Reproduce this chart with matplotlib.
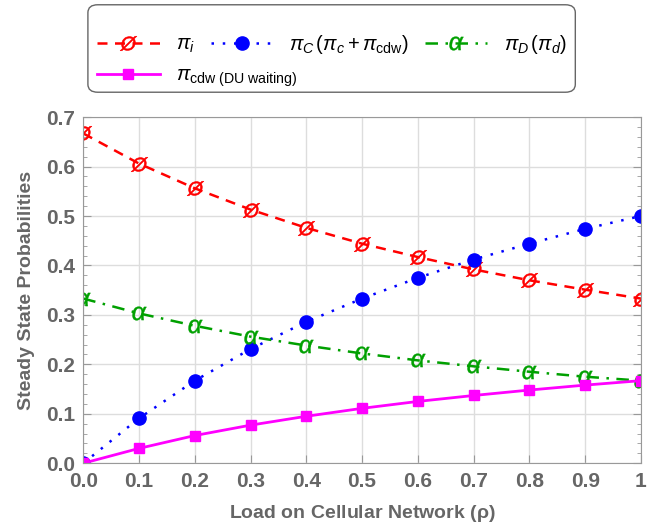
import matplotlib.pyplot as plt
from matplotlib.ticker import MultipleLocator
from matplotlib.patches import FancyBboxPatch

plt.rcParams['font.family'] = ['Liberation Sans', 'DejaVu Sans']
plt.rcParams['mathtext.fontset'] = 'custom'
plt.rcParams['mathtext.rm'] = 'Liberation Sans'
plt.rcParams['mathtext.it'] = 'Liberation Sans:italic'
plt.rcParams['mathtext.bf'] = 'Liberation Sans:bold'

# load values and steady state probabilities
rho = [0.0, 0.1, 0.2, 0.3, 0.4, 0.5, 0.6, 0.7, 0.8, 0.9, 1.0]
pi_i = [0.667, 0.606, 0.556, 0.513, 0.476, 0.444, 0.417, 0.392, 0.370, 0.351, 0.333]
pi_C = [0.0, 0.091, 0.167, 0.231, 0.286, 0.333, 0.375, 0.412, 0.444, 0.474, 0.500]
pi_D = [0.333, 0.303, 0.278, 0.256, 0.238, 0.222, 0.208, 0.196, 0.185, 0.175, 0.167]
pi_cdw = [0.0, 0.030, 0.056, 0.077, 0.095, 0.111, 0.125, 0.137, 0.148, 0.158, 0.167]
xticklabels = ['0.0', '0.1', '0.2', '0.3', '0.4', '0.5', '0.6', '0.7', '0.8', '0.9', '1']
yticks = [0.0, 0.1, 0.2, 0.3, 0.4, 0.5, 0.6, 0.7]

gray = '#666666'
fig = plt.figure(figsize=(6.56, 5.30), dpi=100)
ax = fig.add_axes([0.127, 0.126, 0.850, 0.653])

l1, = ax.plot(rho, pi_i, color='#ff0000', ls=(0, (4, 3)), lw=1.8,
              marker='$Ø$', ms=12, mew=0.4, label=r'$\pi_i$')
l2, = ax.plot(rho, pi_C, color='#0000ff', ls=(0, (1, 3.5)), lw=1.8,
              marker='o', ms=9.5, label=r'$\pi_C\,(\pi_c + \pi_{\rm cdw})$')
l3, = ax.plot(rho, pi_D, color='#00a000', ls=(0, (5, 3, 1, 3)), lw=1.8,
              marker='$\\alpha$', ms=10, mew=0.3, label=r'$\pi_D\,(\pi_d)$')
l4, = ax.plot(rho, pi_cdw, color='#ff00ff', ls='-', lw=2,
              marker='s', ms=7, label=r'$\pi_{\rm cdw\ (DU\ waiting)}$')

ax.set_xlim(0, 1)
ax.set_ylim(0, 0.7)
ax.set_xticks(rho)
ax.set_xticklabels(xticklabels)
ax.set_yticks(yticks)
ax.yaxis.set_minor_locator(MultipleLocator(0.02))
ax.grid(True, which='major', color='#dddddd', lw=1)
ax.set_axisbelow(True)
for s in ax.spines.values():
    s.set_color('#999999')
ax.tick_params(which='both', direction='in', color='#999999', right=True, top=False)
ax.tick_params(which='major', length=6, labelsize=15, labelcolor=gray, pad=6)
ax.tick_params(which='minor', length=3)
for lab in ax.get_xticklabels() + ax.get_yticklabels():
    lab.set_fontweight('bold')

ax.set_xlabel(r'Load on Cellular Network ($\bf\rho$)', fontsize=14, fontweight='bold',
              color=gray, labelpad=9)
ax.set_ylabel('Steady State Probabilities', fontsize=14, fontweight='bold',
              color=gray, labelpad=8)

# legend box: two rows drawn as two frameless legends inside one rounded frame
box = FancyBboxPatch((0.134, 0.826), 0.743, 0.165, transform=fig.transFigure,
                     boxstyle='round,pad=0,rounding_size=0.015', fc='white',
                     ec='#666666', lw=1)
fig.patches.append(box)
kw = dict(loc='upper left', fontsize=14.5, frameon=False, handlelength=3.1,
          handletextpad=0.8, columnspacing=0.8, borderpad=0, borderaxespad=0)
leg1 = fig.legend([l1, l2, l3], [l1.get_label(), l2.get_label(), l3.get_label()],
                  ncol=3, bbox_to_anchor=(0.148, 0.938), **kw)
leg2 = fig.legend([l4], [l4.get_label()], bbox_to_anchor=(0.148, 0.876), **kw)

fig.savefig('out.png', dpi=100)
